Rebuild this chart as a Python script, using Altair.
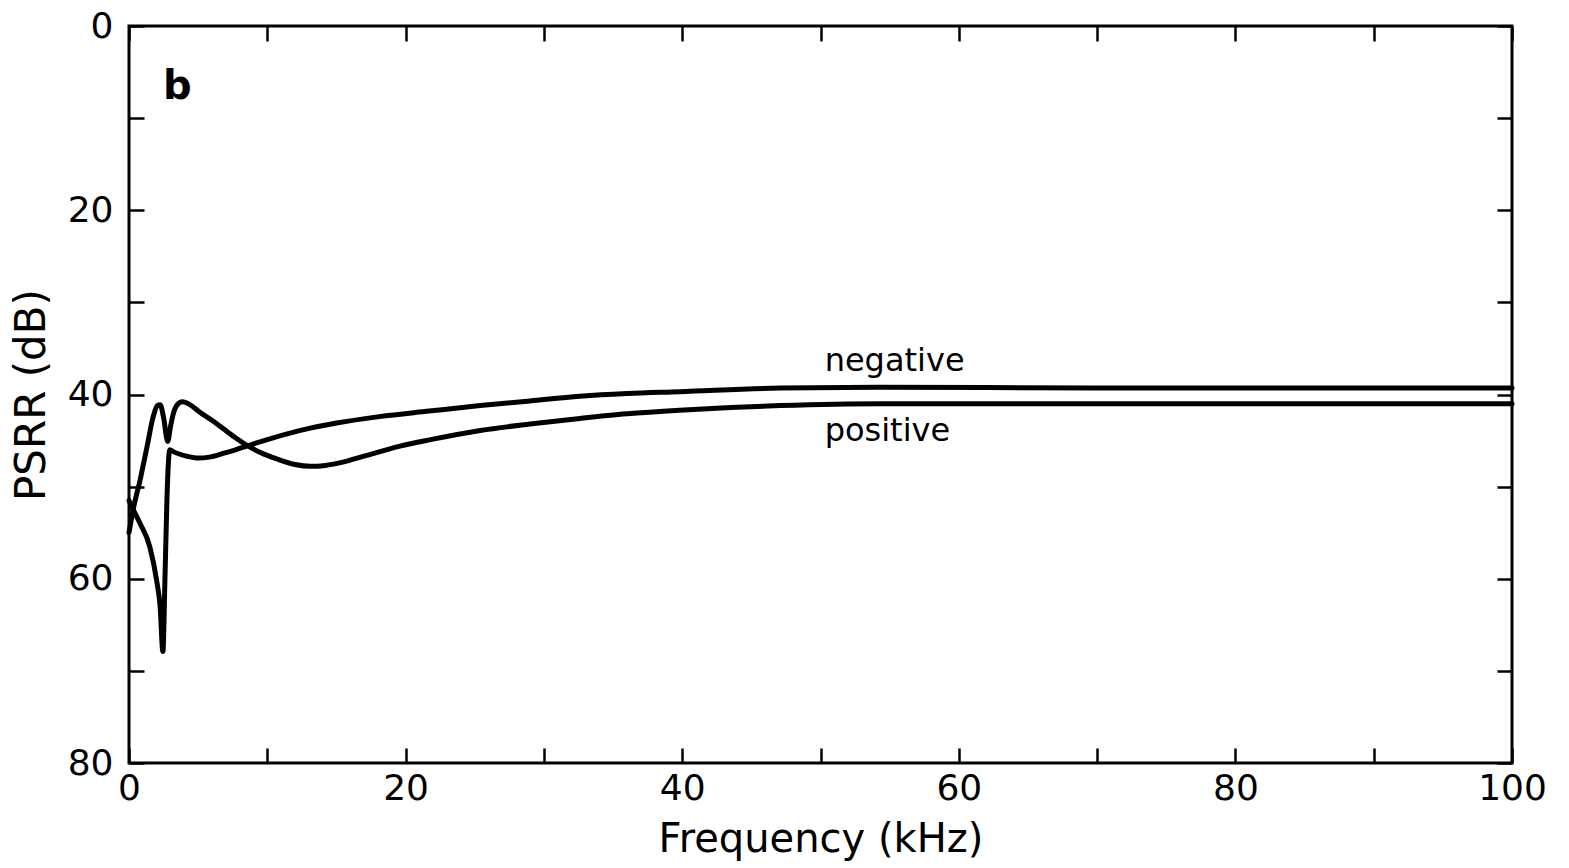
import altair as alt
import pandas as pd

# Frequency (kHz) and PSRR (dB)
pos_freq = [0, 0.3, 0.8, 1.3, 1.75, 2.05, 2.25, 2.5, 2.8, 3.0, 3.2, 3.5, 3.85, 4.4, 5.1,
            6.0, 6.8, 7.7, 8.5, 9.5, 10.7, 12.0, 13.1, 14.2, 15.3, 17.2, 19.6, 21.8,
            25.4, 29.0, 32.6, 36.0, 39.8, 43.5, 47.1, 54.3, 65.0, 80.0, 100.0]
pos_psrr = [55.0, 52.5, 49.3, 45.7, 42.4, 41.2, 41.1, 42.5, 45.1, 43.5, 42.1, 41.1, 40.8, 41.1, 41.9,
            42.8, 43.7, 44.7, 45.5, 46.3, 47.0, 47.6, 47.8, 47.7, 47.4, 46.6, 45.6, 44.9,
            43.9, 43.2, 42.6, 42.1, 41.7, 41.4, 41.2, 41.0, 41.0, 41.0, 41.0]

neg_freq = [0, 0.4, 0.8, 1.5, 2.0, 2.25, 2.45, 2.6, 2.75, 2.95, 3.2, 4.2, 5.0, 5.8,
            6.8, 7.7, 8.5, 10.0, 12.4, 15.0, 18.1, 21.7, 25.4, 29.0, 32.6, 36.0,
            39.8, 47.1, 54.3, 70.0, 85.0, 100.0]
neg_psrr = [51.5, 52.8, 54.0, 56.5, 60.2, 63.0, 67.9, 60.0, 51.0, 46.0, 46.2, 46.7, 46.9, 46.8,
            46.4, 46.0, 45.6, 44.9, 43.9, 43.1, 42.4, 41.8, 41.2, 40.7, 40.2, 39.9,
            39.7, 39.3, 39.2, 39.3, 39.3, 39.3]

x_ticks = [0, 10, 20, 30, 40, 50, 60, 70, 80, 90, 100]
y_ticks = [0, 10, 20, 30, 40, 50, 60, 70, 80]

label_text = ["negative", "positive"]
label_x = [50.3, 50.3]
label_y = [37.4, 45.0]

panel_text = ["b"]
panel_x = [2.45]
panel_y = [7.9]

FONT = "DejaVu Sans"

df = pd.DataFrame({
    "freq": pos_freq + neg_freq,
    "psrr": pos_psrr + neg_psrr,
    "series": ["positive"] * len(pos_freq) + ["negative"] * len(neg_freq),
})
labels_df = pd.DataFrame({"x": label_x, "y": label_y, "text": label_text})
panel_df = pd.DataFrame({"x": panel_x, "y": panel_y, "text": panel_text})

xscale = alt.Scale(domain=[0, 100], nice=False, zero=False)
yscale = alt.Scale(domain=[0, 80], nice=False, zero=False, reverse=True)
label_expr = "datum.value % 20 == 0 ? datum.label : ''"

common_tick = dict(offset=-15, tickSize=15, tickWidth=2.5, tickColor="black",
                   domain=False, grid=False)

x_axis = alt.Axis(orient="bottom", values=x_ticks, labelExpr=label_expr,
                  labelFontSize=36, labelFont=FONT, labelColor="black",
                  labelPadding=8, labelFlush=False, labelOverlap=False,
                  title="Frequency (kHz)", titleFontSize=40, titleFont=FONT,
                  titleFontWeight="normal", titleColor="black", titlePadding=13,
                  **common_tick)
y_axis = alt.Axis(orient="left", values=y_ticks, labelExpr=label_expr,
                  labelFontSize=36, labelFont=FONT, labelColor="black",
                  labelPadding=16, labelFlush=False, labelOverlap=False,
                  title="PSRR (dB)", titleFontSize=42, titleFont=FONT,
                  titleFontWeight="normal", titleColor="black", titlePadding=14,
                  **common_tick)
x_axis_top = alt.Axis(orient="top", values=x_ticks, labels=False, title="", **common_tick)
y_axis_right = alt.Axis(orient="right", values=y_ticks, labels=False, title="", **common_tick)

lines = alt.Chart(df).mark_line(color="black", strokeWidth=5, interpolate="monotone",
                                strokeJoin="round", strokeCap="round").encode(
    x=alt.X("freq:Q", scale=xscale, axis=x_axis),
    y=alt.Y("psrr:Q", scale=yscale, axis=y_axis),
    detail="series:N",
)

frame_axes = alt.Chart(df).mark_line(opacity=0).encode(
    x=alt.X("freq:Q", scale=xscale, axis=x_axis_top),
    y=alt.Y("psrr:Q", scale=yscale, axis=y_axis_right),
    detail="series:N",
)

curve_labels = alt.Chart(labels_df).mark_text(
    align="left", baseline="alphabetic", fontSize=32, font=FONT, color="black"
).encode(
    x=alt.X("x:Q", scale=xscale, axis=None),
    y=alt.Y("y:Q", scale=yscale, axis=None),
    text="text:N",
)

panel_label = alt.Chart(panel_df).mark_text(
    align="left", baseline="alphabetic", fontSize=40, font=FONT,
    fontWeight="bold", color="black"
).encode(
    x=alt.X("x:Q", scale=xscale, axis=None),
    y=alt.Y("y:Q", scale=yscale, axis=None),
    text="text:N",
)

chart = alt.layer(lines, frame_axes, curve_labels, panel_label).resolve_axis(
    x="independent", y="independent"
).properties(
    width=1383,
    height=737,
    padding={"left": 129, "top": 26, "right": 57, "bottom": 105},
    autosize=alt.AutoSizeParams(type="none"),
    background="white",
).configure_view(stroke="black", strokeWidth=3)

chart.save("out.html", embed_options={"renderer": "svg", "actions": False})
